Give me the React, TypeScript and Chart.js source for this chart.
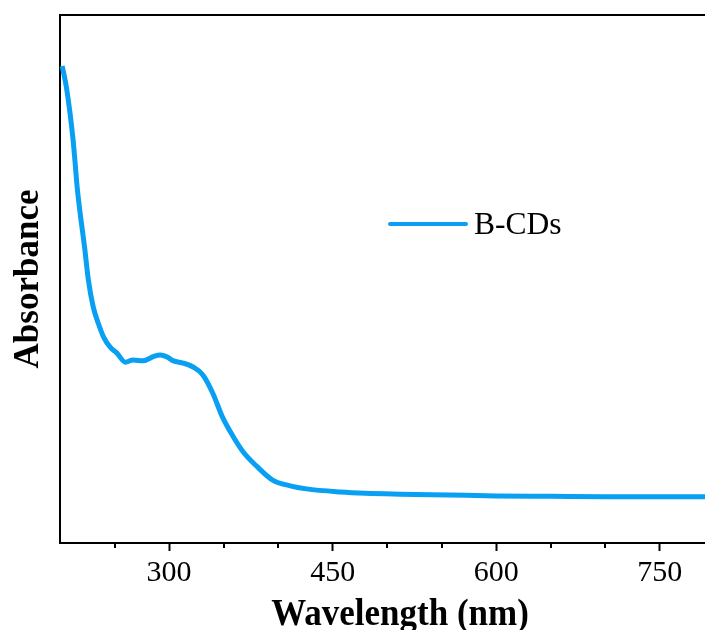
import React, { useEffect, useRef } from 'react';
import { Chart, registerables } from 'chart.js';

Chart.register(...registerables);

const wavelengths = [
  202, 206, 212, 216, 219, 222.5, 226, 230.5, 235, 240, 246, 252, 260, 267, 276, 286, 292, 298,
  304, 313, 322, 331, 340, 349, 359, 368, 381, 395, 411, 426, 457, 480, 512, 557, 600, 650, 700,
  750, 800,
];
const absorbance = [
  1.084, 1.034, 0.916, 0.802, 0.739, 0.673, 0.598, 0.536, 0.5, 0.468, 0.445, 0.432, 0.411, 0.416,
  0.414, 0.424, 0.427, 0.423, 0.414, 0.409, 0.4, 0.382, 0.341, 0.286, 0.241, 0.207, 0.173, 0.143,
  0.13, 0.123, 0.116, 0.113, 0.111, 0.109, 0.107, 0.106, 0.105, 0.105, 0.105,
];
const majorTicks = [300, 450, 600, 750];
const minorTicks = [250, 350, 400, 500, 550, 650, 700, 800];
const seriesLabel = 'B-CDs';
const xTitle = 'Wavelength (nm)';
const yTitle = 'Absorbance';

const SERIF = '"Liberation Serif", "Times New Roman", serif';
const LINE_COLOR = '#09a0f3';

export default function App() {
  const ref = useRef<HTMLCanvasElement>(null);

  useEffect(() => {
    const canvas = ref.current;
    if (!canvas) return;

    const framePlugin = {
      id: 'frame',
      afterDraw(chart: any) {
        const { ctx, chartArea: a, scales } = chart;
        const xs = scales.x;
        ctx.save();
        ctx.strokeStyle = '#000';
        ctx.lineWidth = 2;
        ctx.beginPath();
        ctx.moveTo(a.left - 1, a.top);
        ctx.lineTo(a.right + 1, a.top);
        ctx.moveTo(a.right, a.top);
        ctx.lineTo(a.right, a.bottom);
        ctx.stroke();
        // minor ticks
        ctx.beginPath();
        minorTicks.forEach((v) => {
          const px = Math.round(xs.getPixelForValue(v));
          ctx.moveTo(px, a.bottom);
          ctx.lineTo(px, a.bottom + 5);
        });
        ctx.stroke();
        // x-axis title
        ctx.fillStyle = '#000';
        ctx.font = `bold 35px ${SERIF}`;
        ctx.textAlign = 'center';
        ctx.textBaseline = 'alphabetic';
        ctx.save();
        ctx.translate(a.left + 340, a.bottom + 82);
        ctx.scale(1, 1.08);
        ctx.fillText(xTitle, 0, 0);
        ctx.restore();
        // legend
        const ds = chart.data.datasets[0];
        const lx = a.left + 330;
        const ly = a.top + 209;
        ctx.strokeStyle = ds.borderColor;
        ctx.lineWidth = 4;
        ctx.lineCap = 'round';
        ctx.beginPath();
        ctx.moveTo(lx, ly);
        ctx.lineTo(lx + 76, ly);
        ctx.stroke();
        ctx.fillStyle = '#000';
        ctx.font = `31.5px ${SERIF}`;
        ctx.textBaseline = 'middle';
        ctx.textAlign = 'left';
        ctx.fillText(ds.label, lx + 84, ly + 2);
        ctx.restore();
      },
    };

    const chart = new Chart(canvas, {
      type: 'line',
      data: {
        labels: wavelengths,
        datasets: [
          {
            label: seriesLabel,
            data: wavelengths.map((w, i) => ({ x: w, y: absorbance[i] })),
            borderColor: LINE_COLOR,
            backgroundColor: LINE_COLOR,
            borderWidth: 5,
            pointRadius: 0,
            cubicInterpolationMode: 'monotone',
            fill: false,
          },
        ],
      },
      options: {
        responsive: false,
        animation: false,
        layout: { padding: { top: 15, right: 5.6, left: 0, bottom: 0 } },
        plugins: {
          legend: { display: false },
          tooltip: { enabled: false },
        },
        scales: {
          x: {
            type: 'linear',
            min: 200,
            max: 800,
            afterBuildTicks: (scale: any) => {
              scale.ticks = majorTicks.map((value) => ({ value }));
            },
            afterFit: (scale: any) => {
              scale.height = 97;
            },
            grid: {
              display: true,
              drawOnChartArea: false,
              drawTicks: true,
              tickLength: 8,
              tickWidth: 2,
              tickColor: '#000',
            },
            border: { display: true, color: '#000', width: 2 },
            ticks: {
              color: '#000',
              padding: 4,
              font: { family: SERIF, size: 30 },
              maxRotation: 0,
              autoSkip: false,
            },
            title: { display: false, text: xTitle },
          },
          y: {
            type: 'linear',
            min: 0,
            max: 1.2,
            afterFit: (scale: any) => {
              scale.width = 60;
            },
            grid: { display: false, drawTicks: false },
            border: { display: true, color: '#000', width: 2 },
            ticks: { display: false },
            title: {
              display: true,
              text: yTitle,
              color: '#000',
              font: { family: SERIF, size: 35, weight: 'bold' },
              padding: { top: 8, bottom: 0 },
            },
          },
        },
      },
      plugins: [framePlugin],
    } as any);

    return () => chart.destroy();
  }, []);

  return (
    <div
      style={{
        position: 'fixed',
        left: 0,
        top: 0,
        width: 705,
        height: 630,
        overflow: 'hidden',
        background: '#fff',
      }}
    >
      <canvas ref={ref} width={720} height={640} style={{ display: 'block', width: 720, height: 640 }} />
    </div>
  );
}
